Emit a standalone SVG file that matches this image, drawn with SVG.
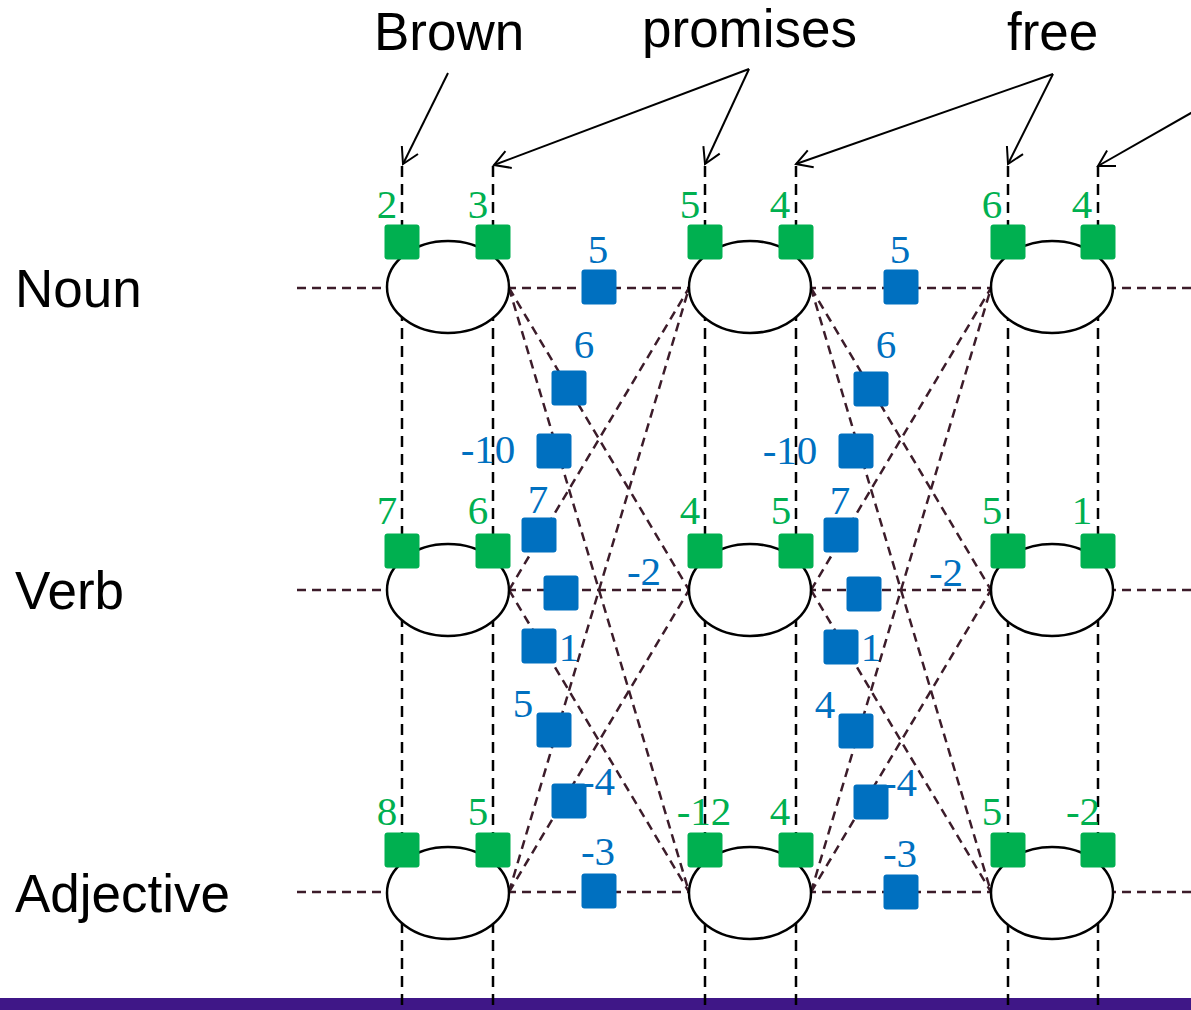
<svg xmlns="http://www.w3.org/2000/svg" width="1191" height="1010" viewBox="0 0 1191 1010">
  <defs>
    <style>
      .word { font-family: "Liberation Sans", Arial, sans-serif; font-size: 53px; fill: #000; }
      .num { font-family: "Liberation Serif", "Times New Roman", serif; font-size: 41px; text-anchor: middle; }
      .g { fill: #00b050; }
      .b { fill: #0070c0; }
      .vline { stroke: #000; stroke-width: 2.5; stroke-dasharray: 11 7; fill: none; }
      .hline { stroke: #3c1c2a; stroke-width: 2.5; stroke-dasharray: 9 6; fill: none; }
      .arrow { stroke: #000; stroke-width: 2; fill: none; marker-end: url(#open); }
      .state { fill: #fff; stroke: #000; stroke-width: 2.5; }
      .emit { fill: #00b050; }
      .trans { fill: #0070c0; }
    </style>
    <marker id="open" markerUnits="userSpaceOnUse" markerWidth="40" markerHeight="40" viewBox="-20 -20 40 40" refX="0" refY="0" orient="auto" overflow="visible">
      <path d="M -15.6 -9 L 0 0 L -15.6 9" fill="none" stroke="#000" stroke-width="2"/>
    </marker>
    <rect id="sq" x="-17.5" y="-17.5" width="35" height="35" rx="3"/>
  </defs>

  <rect width="1191" height="1010" fill="#fff"/>
  <!-- footer bar -->
  <rect x="0" y="998" width="1191" height="12" fill="#3f1787"/>

  <!-- labels: words and tags -->
  <g id="words">
    <text class="word" x="374" y="50">Brown</text>
    <text class="word" x="642" y="47">promises</text>
    <text class="word" x="1007" y="50">free</text>
  </g>
  <g id="tags">
    <text class="word" x="15" y="307">Noun</text>
    <text class="word" x="15" y="609">Verb</text>
    <text class="word" x="15" y="912">Adjective</text>
  </g>

  <g id="connectors">
    <!-- word arrows -->
    <line class="arrow" x1="448" y1="73" x2="403" y2="164"/>
    <line class="arrow" x1="749" y1="69" x2="494" y2="165"/>
    <line class="arrow" x1="749" y1="69" x2="705" y2="164"/>
    <line class="arrow" x1="1053" y1="74" x2="796" y2="164"/>
    <line class="arrow" x1="1053" y1="74" x2="1008" y2="164"/>
    <line class="arrow" x1="1205" y1="105" x2="1098" y2="166"/>

    <!-- vertical factor lines -->
    <line class="vline" x1="402" y1="166" x2="402" y2="1010"/>
    <line class="vline" x1="493" y1="166" x2="493" y2="1010"/>
    <line class="vline" x1="705" y1="166" x2="705" y2="1010"/>
    <line class="vline" x1="796" y1="166" x2="796" y2="1010"/>
    <line class="vline" x1="1008" y1="166" x2="1008" y2="1010"/>
    <line class="vline" x1="1098" y1="166" x2="1098" y2="1010"/>

    <!-- row lines -->
    <line class="hline" x1="297" y1="288" x2="1191" y2="288"/>
    <line class="hline" x1="297" y1="590" x2="1191" y2="590"/>
    <line class="hline" x1="297" y1="892" x2="1191" y2="892"/>

    <!-- transitions between columns 1 and 2 -->
    <line class="hline" x1="509" y1="288" x2="689" y2="590"/>
    <line class="hline" x1="509" y1="288" x2="689" y2="892"/>
    <line class="hline" x1="509" y1="590" x2="689" y2="288"/>
    <line class="hline" x1="509" y1="590" x2="689" y2="892"/>
    <line class="hline" x1="509" y1="892" x2="689" y2="288"/>
    <line class="hline" x1="509" y1="892" x2="689" y2="590"/>

    <!-- transitions between columns 2 and 3 -->
    <line class="hline" x1="811" y1="288" x2="991" y2="590"/>
    <line class="hline" x1="811" y1="288" x2="991" y2="892"/>
    <line class="hline" x1="811" y1="590" x2="991" y2="288"/>
    <line class="hline" x1="811" y1="590" x2="991" y2="892"/>
    <line class="hline" x1="811" y1="892" x2="991" y2="288"/>
    <line class="hline" x1="811" y1="892" x2="991" y2="590"/>
  </g>

  <!-- state nodes -->
  <g id="c1-noun"><ellipse class="state" cx="448" cy="287" rx="61" ry="46"/></g>
  <g id="c1-verb"><ellipse class="state" cx="448" cy="590" rx="61" ry="46"/></g>
  <g id="c1-adj"><ellipse class="state" cx="448" cy="893" rx="61" ry="46"/></g>
  <g id="c2-noun"><ellipse class="state" cx="750" cy="287" rx="61" ry="46"/></g>
  <g id="c2-verb"><ellipse class="state" cx="750" cy="590" rx="61" ry="46"/></g>
  <g id="c2-adj"><ellipse class="state" cx="750" cy="893" rx="61" ry="46"/></g>
  <g id="c3-noun"><ellipse class="state" cx="1052" cy="287" rx="61" ry="46"/></g>
  <g id="c3-verb"><ellipse class="state" cx="1052" cy="590" rx="61" ry="46"/></g>
  <g id="c3-adj"><ellipse class="state" cx="1052" cy="893" rx="61" ry="46"/></g>

  <!-- emission factors -->
  <g id="emissions" class="emit">
    <use href="#sq" x="402" y="242"/><use href="#sq" x="493" y="242"/>
    <use href="#sq" x="705" y="242"/><use href="#sq" x="796" y="242"/>
    <use href="#sq" x="1008" y="242"/><use href="#sq" x="1098" y="242"/>
    <use href="#sq" x="402" y="551"/><use href="#sq" x="493" y="551"/>
    <use href="#sq" x="705" y="551"/><use href="#sq" x="796" y="551"/>
    <use href="#sq" x="1008" y="551"/><use href="#sq" x="1098" y="551"/>
    <use href="#sq" x="402" y="850"/><use href="#sq" x="493" y="850"/>
    <use href="#sq" x="705" y="850"/><use href="#sq" x="796" y="850"/>
    <use href="#sq" x="1008" y="850"/><use href="#sq" x="1098" y="850"/>
  </g>
  <g id="emission-scores" class="num g">
    <text x="387" y="218">2</text><text x="478" y="218">3</text>
    <text x="690" y="218">5</text><text x="780" y="218">4</text>
    <text x="992" y="218">6</text><text x="1082" y="218">4</text>
    <text x="387" y="524">7</text><text x="478" y="524">6</text>
    <text x="690" y="524">4</text><text x="781" y="524">5</text>
    <text x="992" y="524">5</text><text x="1082" y="524">1</text>
    <text x="387" y="825">8</text><text x="478" y="825">5</text>
    <text x="704" y="825">-12</text><text x="780" y="825">4</text>
    <text x="992" y="825">5</text><text x="1083" y="825">-2</text>
  </g>

  <!-- transition factors -->
  <g id="transitions" class="trans">
    <use href="#sq" x="599" y="287"/>
    <use href="#sq" x="569" y="388"/>
    <use href="#sq" x="554" y="451"/>
    <use href="#sq" x="539" y="535"/>
    <use href="#sq" x="561" y="593"/>
    <use href="#sq" x="539" y="646"/>
    <use href="#sq" x="554" y="730"/>
    <use href="#sq" x="569" y="801"/>
    <use href="#sq" x="599" y="891"/>
    <use href="#sq" x="901" y="287"/>
    <use href="#sq" x="871" y="389"/>
    <use href="#sq" x="856" y="451"/>
    <use href="#sq" x="841" y="535"/>
    <use href="#sq" x="864" y="594"/>
    <use href="#sq" x="841" y="647"/>
    <use href="#sq" x="856" y="731"/>
    <use href="#sq" x="871" y="802"/>
    <use href="#sq" x="901" y="892"/>
  </g>
  <g id="transition-scores" class="num b">
    <text x="598" y="263">5</text>
    <text x="584" y="358">6</text>
    <text x="488" y="463">-10</text>
    <text x="538" y="513">7</text>
    <text x="644" y="585">-2</text>
    <text x="569" y="661">1</text>
    <text x="523" y="717">5</text>
    <text x="598" y="795">-4</text>
    <text x="598" y="865">-3</text>
    <text x="900" y="263">5</text>
    <text x="886" y="358">6</text>
    <text x="790" y="464">-10</text>
    <text x="840" y="514">7</text>
    <text x="946" y="586">-2</text>
    <text x="871" y="661">1</text>
    <text x="825" y="718">4</text>
    <text x="900" y="796">-4</text>
    <text x="900" y="867">-3</text>
  </g>
</svg>
